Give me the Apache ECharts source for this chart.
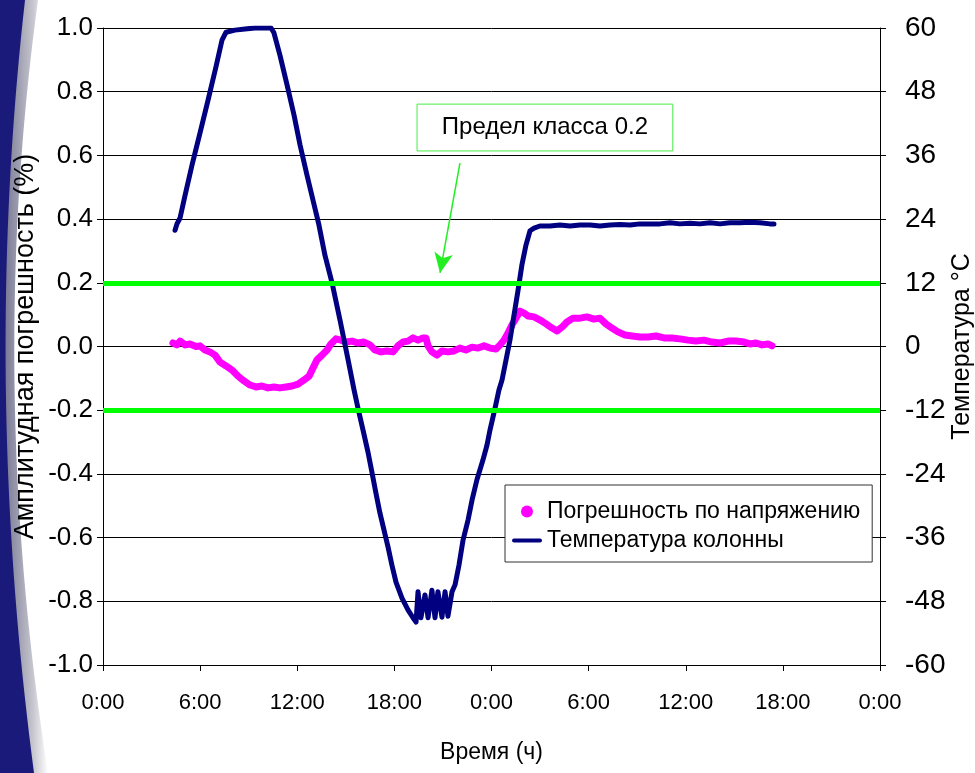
<!DOCTYPE html>
<html>
<head>
<meta charset="utf-8">
<script src="https://cdn.jsdelivr.net/npm/echarts@6/dist/echarts.min.js"></script>
<style>
  html, body { margin: 0; padding: 0; background: #ffffff; }
  #chart { width: 975px; height: 773px; }
</style>
</head>
<body>
<div id="chart"></div>
<script>
// Hours since the start of the test (0..48) on the shared time axis
const xTicks = [0, 6, 12, 18, 24, 30, 36, 42, 48];
const errTicks = [-1.0, -0.8, -0.6, -0.4, -0.2, 0.0, 0.2, 0.4, 0.6, 0.8, 1.0];
const tempTicks = [-60, -48, -36, -24, -12, 0, 12, 24, 36, 48, 60];

// Amplitude error of the voltage channel, % (time in hours)
const errHours = [4.32, 4.57, 4.76, 5.07, 5.37, 5.75, 5.99, 6.30, 6.61, 6.92, 7.23, 7.60, 7.97, 8.34, 8.71, 9.08, 9.45, 9.82, 10.19, 10.56, 10.93, 11.30, 11.68, 12.05, 12.42, 12.73, 12.97, 13.22, 13.53, 13.84, 14.08, 14.39, 14.70, 15.01, 15.38, 15.75, 16.12, 16.49, 16.80, 17.17, 17.54, 17.92, 18.22, 18.53, 18.84, 19.15, 19.46, 19.77, 19.95, 20.08, 20.32, 20.63, 20.94, 21.31, 21.68, 22.05, 22.42, 22.80, 23.17, 23.54, 23.91, 24.28, 24.53, 24.77, 25.02, 25.27, 25.51, 25.76, 26.01, 26.25, 26.63, 27.00, 27.37, 27.74, 28.05, 28.36, 28.66, 29.03, 29.47, 29.90, 30.33, 30.70, 31.07, 31.44, 31.81, 32.25, 32.68, 33.17, 33.67, 34.16, 34.66, 35.15, 35.64, 36.14, 36.63, 37.13, 37.62, 38.12, 38.61, 39.10, 39.60, 39.97, 40.34, 40.71, 41.08, 41.33];
const errValues = [0.011, 0.005, 0.017, 0.005, 0.008, 0.000, 0.002, -0.011, -0.017, -0.027, -0.049, -0.061, -0.074, -0.093, -0.108, -0.121, -0.127, -0.124, -0.130, -0.127, -0.130, -0.127, -0.124, -0.118, -0.105, -0.093, -0.068, -0.042, -0.027, -0.011, 0.008, 0.024, 0.020, 0.014, 0.017, 0.011, 0.014, 0.005, -0.011, -0.017, -0.014, -0.017, 0.002, 0.014, 0.017, 0.027, 0.020, 0.027, 0.027, 0.002, -0.017, -0.027, -0.014, -0.017, -0.014, -0.005, -0.011, -0.002, -0.005, 0.002, -0.005, -0.008, 0.005, 0.020, 0.042, 0.068, 0.089, 0.111, 0.105, 0.096, 0.093, 0.083, 0.071, 0.058, 0.049, 0.061, 0.077, 0.089, 0.089, 0.093, 0.086, 0.089, 0.071, 0.058, 0.046, 0.036, 0.033, 0.030, 0.030, 0.033, 0.027, 0.027, 0.024, 0.020, 0.017, 0.020, 0.014, 0.011, 0.017, 0.017, 0.014, 0.008, 0.011, 0.005, 0.008, 0.002];

// Column temperature, °C (time in hours)
const tempHours = [4.45, 4.57, 4.76, 5.07, 5.50, 5.99, 6.49, 6.98, 7.35, 7.60, 8.15, 8.77, 9.39, 10.00, 10.38, 10.56, 10.93, 11.37, 11.80, 12.17, 12.60, 12.97, 13.34, 13.71, 14.15, 14.64, 15.14, 15.51, 15.75, 16.06, 16.37, 16.62, 16.86, 17.11, 17.36, 17.61, 17.85, 18.10, 18.47, 18.84, 19.15, 19.34, 19.46, 19.64, 19.89, 20.08, 20.32, 20.51, 20.69, 20.94, 21.13, 21.31, 21.56, 21.75, 21.99, 22.24, 22.55, 22.80, 23.10, 23.47, 23.72, 23.91, 24.22, 24.46, 24.65, 24.90, 25.14, 25.39, 25.64, 25.88, 26.13, 26.38, 26.63, 26.99, 27.61, 28.23, 28.85, 29.47, 30.09, 30.70, 31.32, 31.94, 32.56, 33.17, 33.79, 34.41, 35.03, 35.64, 36.26, 36.88, 37.50, 38.12, 38.73, 39.35, 39.97, 40.59, 41.20, 41.45];
const tempValues = [21.9, 23.1, 24.2, 28.5, 34.2, 40.2, 46.4, 52.7, 57.7, 59.2, 59.6, 59.8, 60.0, 60.0, 60.0, 59.1, 54.9, 49.3, 43.6, 38.0, 32.3, 27.6, 22.9, 17.2, 12.0, 5.0, -2.5, -8.2, -11.6, -15.7, -19.9, -23.8, -27.6, -31.4, -34.6, -37.8, -41.2, -44.4, -47.4, -49.6, -51.1, -51.9, -46.2, -51.1, -46.8, -51.1, -45.9, -51.1, -46.2, -51.0, -46.2, -50.8, -46.2, -44.9, -41.2, -36.5, -32.7, -28.9, -25.1, -21.4, -18.6, -15.7, -11.6, -8.2, -6.3, -2.5, 1.2, 5.9, 10.6, 15.4, 19.1, 21.8, 22.3, 22.7, 22.7, 22.9, 22.7, 22.9, 22.9, 22.7, 22.9, 23.0, 22.9, 23.1, 23.1, 23.1, 23.3, 23.1, 23.2, 23.1, 23.3, 23.1, 23.3, 23.3, 23.4, 23.3, 23.1, 23.1];

// Accuracy class limit, %
const classLimit = 0.2;
const limitNote = 'Предел класса 0.2';
// Note box corners and arrow ends, in (hours, %) chart units
const noteBox = [[19.4, 0.761], [35.2, 0.614]];
const noteArrow = [[22.05, 0.576], [20.82, 0.231]];

const errName = 'Погрешность по напряжению';
const tempName = 'Температура колонны';

const pair = (xs, ys) => xs.map((x, i) => [x, ys[i]]);

// Curved slide-border outline: a quadratic edge from (x0,0) via control (xc,380) to (x1,773)
function borderShape(x0, xc, x1) {
  const pts = [[0, 0]];
  for (let i = 0; i <= 40; i++) {
    const t = i / 40;
    const x = (1 - t) * (1 - t) * x0 + 2 * t * (1 - t) * xc + t * t * x1;
    const y = 2 * t * (1 - t) * 380 + t * t * 773;
    pts.push([x, y]);
  }
  pts.push([0, 773]);
  return pts;
}

const FONT = '"Liberation Sans", Arial, sans-serif';
const chart = echarts.init(document.getElementById('chart'), null, { renderer: 'canvas' });

chart.setOption({
  backgroundColor: '#ffffff',
  animation: false,
  textStyle: { fontFamily: FONT, color: '#000' },
  graphic: [
    { // silver rim of the slide border
      type: 'polygon', silent: true, z: -10,
      shape: { points: borderShape(38, -14, 48) },
      style: {
        fill: {
          type: 'linear', x: 0, y: 0, x2: 1, y2: 0,
          colorStops: [
            { offset: 0, color: '#6a6a8a' }, { offset: 0.7, color: '#c8c8d0' }, { offset: 1, color: '#ffffff' }
          ]
        }
      }
    },
    { // dark blue slide border
      type: 'polygon', silent: true, z: -9,
      shape: { points: borderShape(25, -18, 34) },
      style: { fill: '#1a1a7a' }
    }
  ],
  grid: { left: 103, right: 95, top: 28, bottom: 108, outerBoundsMode: 'none', containLabel: false },
  legend: {
    left: 505, top: 485,
    orient: 'vertical',
    backgroundColor: '#ffffff',
    borderColor: '#333333', borderWidth: 1,
    padding: [12, 12, 7, 7],
    itemWidth: 30, itemHeight: 12, itemGap: 0,
    textStyle: { fontSize: 23, lineHeight: 29, color: '#000', fontFamily: FONT },
    data: [
      { name: errName, icon: 'circle', itemStyle: { color: '#ff00ff' } },
      { name: tempName, icon: 'path://M2,0 L28,0 A2,2 0 0 1 28,4 L2,4 A2,2 0 0 1 2,0 Z', itemStyle: { color: '#000080' } }
    ]
  },
  xAxis: {
    type: 'value', min: xTicks[0], max: xTicks[xTicks.length - 1], interval: 6,
    name: 'Время (ч)', nameLocation: 'middle', nameGap: 76,
    nameTextStyle: { fontSize: 23, color: '#000', fontFamily: FONT },
    axisLine: { show: true, onZero: false, lineStyle: { color: '#000', width: 1 } },
    axisTick: { show: true, inside: false, length: 6, lineStyle: { color: '#000' } },
    axisLabel: { fontSize: 22, color: '#000', margin: 27, fontFamily: FONT, formatter: v => (v % 24) + ':00' },
    splitLine: { show: false }
  },
  yAxis: [
    {
      type: 'value', min: errTicks[0], max: errTicks[errTicks.length - 1], interval: 0.2,
      position: 'left',
      name: 'Амплитудная погрешность (%)', nameLocation: 'middle', nameGap: 64, nameRotate: 90,
      nameMoveOverlap: false,
      nameTextStyle: { fontSize: 27, color: '#000', fontFamily: FONT },
      axisLine: { show: true, onZero: false, lineStyle: { color: '#000', width: 1 } },
      axisTick: { show: true, inside: false, length: 6, lineStyle: { color: '#000' } },
      axisLabel: { fontSize: 26, color: '#000', margin: 10, fontFamily: FONT, formatter: v => v.toFixed(1) },
      splitLine: { show: true, lineStyle: { color: '#000', width: 1 } }
    },
    {
      type: 'value', min: tempTicks[0], max: tempTicks[tempTicks.length - 1], interval: 12,
      position: 'right',
      name: 'Температура °C', nameLocation: 'middle', nameGap: 70, nameRotate: 90,
      nameMoveOverlap: false,
      nameTextStyle: { fontSize: 25, color: '#000', fontFamily: FONT },
      axisLine: { show: true, onZero: false, lineStyle: { color: '#000', width: 1 } },
      axisTick: { show: true, inside: false, length: 6, lineStyle: { color: '#000' } },
      axisLabel: { fontSize: 28, color: '#000', margin: 25, fontFamily: FONT },
      splitLine: { show: false }
    }
  ],
  series: [
    {
      name: errName, type: 'line', yAxisIndex: 0,
      data: pair(errHours, errValues),
      showSymbol: false, symbol: 'none',
      lineStyle: { color: '#ff00ff', width: 7, cap: 'round', join: 'round' },
      itemStyle: { color: '#ff00ff' },
      z: 3,
      markLine: {
        silent: true, symbol: 'none', animation: false,
        label: { show: false },
        data: [
          { yAxis: classLimit, lineStyle: { color: '#00ff00', width: 5, type: 'solid' } },
          { yAxis: -classLimit, lineStyle: { color: '#00ff00', width: 5, type: 'solid' } },
          [
            { coord: noteArrow[0], symbol: 'none' },
            { coord: noteArrow[1], symbol: 'arrow', symbolSize: [14, 20], lineStyle: { color: '#22ee22', width: 1.5, type: 'solid' } }
          ]
        ]
      },
      markArea: {
        silent: true,
        itemStyle: { color: '#ffffff', borderColor: '#44ee44', borderWidth: 1 },
        label: { show: true, position: 'inside', color: '#000', fontSize: 24, fontFamily: FONT },
        data: [[
          { coord: noteBox[0], name: limitNote },
          { coord: noteBox[1] }
        ]]
      }
    },
    {
      name: tempName, type: 'line', yAxisIndex: 1,
      data: pair(tempHours, tempValues),
      showSymbol: false, symbol: 'none',
      lineStyle: { color: '#000080', width: 5, cap: 'round', join: 'round' },
      itemStyle: { color: '#000080' },
      z: 4
    }
  ]
});
</script>
</body>
</html>
